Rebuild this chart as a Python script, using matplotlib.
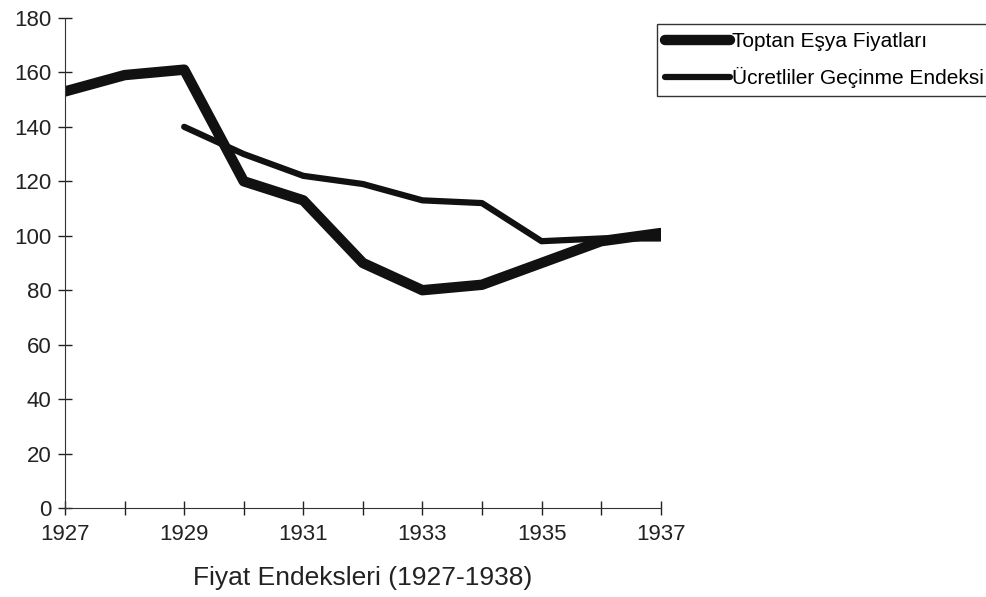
import matplotlib.pyplot as plt

plt.rcParams['font.family'] = ['Liberation Sans', 'DejaVu Sans']

years = [1927, 1928, 1929, 1930, 1931, 1932, 1933, 1934, 1935, 1936, 1937]
toptan = [153, 159, 161, 120, 113, 90, 80, 82, 90, 98, 101]

years2 = [1929, 1930, 1931, 1932, 1933, 1934, 1935, 1936, 1937]
geçinme = [140, 130, 122, 119, 113, 112, 98, 99, 99]

xlabels = ["1927", "", "1929", "", "1931", "", "1933", "", "1935", "", "1937"]

fig = plt.figure(figsize=(9.86, 5.97), dpi=100)
ax = fig.add_axes([0.066, 0.149, 0.604, 0.821])

ax.plot(years, toptan, color="#111111", lw=7.5, solid_capstyle="round",
        solid_joinstyle="round", label="Toptan Eşya Fiyatları")
ax.plot(years2, geçinme, color="#111111", lw=4.5, solid_capstyle="round",
        solid_joinstyle="round", label="Ücretliler Geçinme Endeksi")

ax.set_xlim(1927, 1937)
ax.set_ylim(0, 180)
ax.set_xticks(years)
ax.set_xticklabels(xlabels)
ax.set_yticks(range(0, 181, 20))
ax.tick_params(direction="inout", length=9.5, width=1, labelsize=16, colors="#222222")
ax.tick_params(axis="x", pad=7)
ax.tick_params(axis="y", pad=5)
for s in ["top", "right"]:
    ax.spines[s].set_visible(False)
for s in ["left", "bottom"]:
    ax.spines[s].set_color("#333333")

ax.set_xlabel("Fiyat Endeksleri (1927-1938)", fontsize=19, labelpad=15, color="#222222")

leg = fig.legend(loc="upper left", bbox_to_anchor=(0.666, 0.96), fontsize=15,
                 frameon=True, fancybox=False, edgecolor="black", handlelength=3.1,
                 handletextpad=0.1, borderpad=0.4, labelspacing=0.75, borderaxespad=0.0)
leg.get_frame().set_linewidth(1)

fig.savefig("out.png", dpi=100)
